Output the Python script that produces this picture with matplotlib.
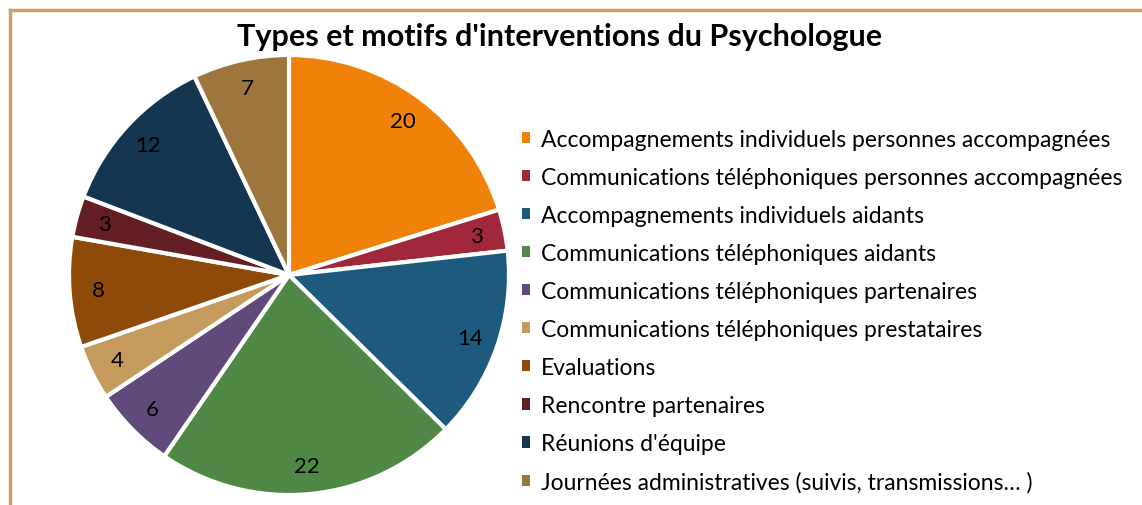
import matplotlib.pyplot as plt
from matplotlib.lines import Line2D
from matplotlib.patches import Patch

# Données du graphique
categories = [
    "Accompagnements individuels personnes accompagnées",
    "Communications téléphoniques personnes accompagnées",
    "Accompagnements individuels aidants",
    "Communications téléphoniques aidants",
    "Communications téléphoniques partenaires",
    "Communications téléphoniques prestataires",
    "Evaluations",
    "Rencontre partenaires",
    "Réunions d'équipe",
    "Journées administratives (suivis, transmissions\u2026 )",
]
valeurs = [20, 3, 14, 22, 6, 4, 8, 3, 12, 7]
couleurs = ["#F0820A", "#A1283A", "#1E5A7D", "#4E8844", "#604A7B",
            "#C49B5C", "#8E4A08", "#641F25", "#143650", "#9C763C"]

plt.rcParams["font.family"] = ["Lato", "DejaVu Sans"]

W, H = 1142, 506
fig = plt.figure(figsize=(W / 100, H / 100), dpi=100)

# cadre (bord gauche et haut)
fig.add_artist(Line2D([10 / W, 10 / W], [0, 1 - 11 / H], color="#C4A46A", lw=2.5))
fig.add_artist(Line2D([10 / W, 1], [1 - 11 / H, 1 - 11 / H], color="#C4A46A", lw=2.5))

# camembert
cx, cy, r = 289, 276, 220
ax = fig.add_axes([(cx - r) / W, 1 - (cy + r) / H, 2 * r / W, 2 * r / H])
wedges, textes = ax.pie(
    valeurs, colors=couleurs, startangle=90, counterclock=False,
    labels=[str(v) for v in valeurs], labeldistance=0.87,
    wedgeprops=dict(edgecolor="white", linewidth=3),
    textprops=dict(fontsize=16, color="black", ha="center", va="center"),
)
ax.set_xlim(-1, 1)
ax.set_ylim(-1, 1)
ax.set_aspect("equal")

fig.text(560 / W, 1 - 37 / H, "Types et motifs d'interventions du Psychologue",
         ha="center", va="center", fontsize=22, fontweight="bold")

handles = [Patch(facecolor=c, edgecolor="none") for c in couleurs]
fig.legend(handles, categories, loc="upper left",
           bbox_to_anchor=(501 / W, 1 - 109 / H), frameon=False,
           fontsize=16.5, handlelength=0.38, handleheight=0.38,
           handletextpad=0.45, labelspacing=0.745)

fig.savefig("out.png", dpi=100)
